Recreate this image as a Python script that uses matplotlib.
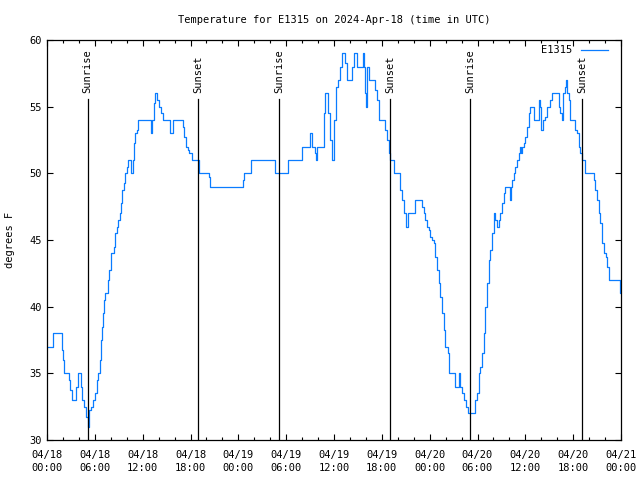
import matplotlib
matplotlib.use("Agg")
import matplotlib.pyplot as plt
import matplotlib.dates as mdates
from datetime import datetime, timedelta

# ---- data (hours since 2024-04-18 00:00 UTC, temperature in F) ----
hours = [0.0, 0.67, 0.8, 1.72, 1.84, 1.97, 2.13, 2.68, 2.76, 2.89, 3.14, 3.43, 3.64, 3.93, 4.14,
         4.23, 4.39, 4.64, 4.9, 5.1, 5.23, 5.31, 5.48, 5.82, 6.03, 6.23, 6.44, 6.65, 6.78, 6.9,
         7.07, 7.2, 7.32, 7.62, 7.82, 7.99, 8.41, 8.54, 8.74, 8.87, 9.16, 9.29, 9.46, 9.67, 9.83,
         10.0, 10.21, 10.42, 10.59, 10.75, 10.92, 11.05, 11.26, 11.46, 12.97, 13.1, 13.22, 13.43,
         13.56, 13.77, 13.85, 14.06, 14.27, 14.52, 15.31, 15.44, 15.69, 15.86, 17.03, 17.11, 17.2,
         17.41, 17.66, 17.87, 18.16, 19.0, 19.08, 20.25, 20.33, 20.46,
         24.43, 24.56, 24.77, 25.48, 25.61, 28.54, 28.66, 30.0, 30.17, 31.76, 31.97, 32.8, 33.0,
         33.2, 33.64, 33.77, 33.93, 34.52, 34.69, 34.9, 35.1, 35.23, 35.44, 35.73, 35.94, 36.28,
         36.44, 36.78, 36.99, 37.2, 37.41, 37.61, 38.03, 38.24, 38.45, 38.66, 38.87, 39.5, 39.62,
         39.71, 39.83, 39.96, 40.13, 40.33, 40.96, 41.17, 41.38, 41.59, 42.22, 42.43, 42.64, 42.85,
         42.97, 43.26, 43.47, 44.1, 44.31, 44.52, 44.73, 45.06, 45.23, 45.56, 46.19, 46.74,
         47.03, 47.24, 47.45, 47.66, 47.87, 48.08, 48.28, 48.58, 48.7, 48.91, 49.12, 49.33, 49.54,
         49.75, 49.96, 50.25, 50.38, 51.0, 51.13, 51.42, 51.63, 51.76, 52.05, 52.26, 52.55, 52.76,
         53.51, 53.72, 53.93, 54.14, 54.35, 54.56, 54.77, 54.98, 55.19, 55.4, 55.61, 55.82, 56.03,
         56.23, 56.44, 56.65, 56.86, 57.07, 57.36, 57.49, 57.91, 58.03, 58.2, 58.33, 58.54, 58.75,
         58.95, 59.16, 59.29, 59.46, 59.58, 59.79, 60.0, 60.21, 60.42, 60.54, 60.84, 61.05, 61.55,
         61.67, 61.8, 62.01, 62.22, 62.51, 62.72, 63.14, 63.35, 63.97, 64.18, 64.39, 64.6, 64.73,
         64.9, 65.02, 65.15, 65.23, 65.44, 65.56, 66.07, 66.19, 66.49, 66.69, 66.9, 67.11, 67.32,
         67.53, 68.37, 68.58, 68.79, 69.0, 69.21, 69.41, 69.62, 69.83, 70.13, 70.25, 70.46, 71.72,
         71.92, 72.0]
temps = [37, 37, 38, 38, 36.75, 36, 35, 35, 34.5, 33.75, 33, 33, 34, 35, 35,
         34, 33, 32.5, 31.75, 31, 31, 32.25, 32.5, 33, 33.5, 34.5, 35, 36, 37.5, 38.5,
         39.5, 40.5, 41, 42, 42.75, 44, 44.5, 45.5, 46, 46.5, 47, 47.75, 48.75, 49.25, 50,
         50.5, 51, 51, 50, 51, 52.25, 53, 53.25, 54, 54, 53, 54, 55.25,
         56, 56, 55.5, 55, 54.5, 54, 54, 53, 53, 54, 54, 53.5, 52.75,
         52, 51.75, 51.5, 51, 51, 50, 50, 49.75, 49,
         49, 49.5, 50, 50, 51, 51, 50, 50, 51, 51, 52, 52, 53,
         52, 51.5, 51, 52, 52, 54.5, 56, 56, 54.5, 52.5, 51, 54, 56.5,
         57, 58, 59, 59, 58.25, 57, 57, 58, 59, 59, 58, 58, 59,
         58, 56, 55, 58, 57, 57, 56.25, 55.5, 54, 54, 53.25, 52.5, 51.5,
         51, 51, 50, 50, 48.75, 48, 47, 46, 47, 47, 48, 48,
         47.5, 47, 46.5, 46, 45.75, 45.25, 45, 44.75, 43.75, 42.75, 41.75, 40.75, 39.5,
         38.25, 37, 36.5, 35, 35, 34, 34, 35, 34, 33.5, 33, 32.5, 32,
         32, 33, 33.5, 35, 35.5, 36.5, 38, 40, 41.75, 43.5, 44.25, 45.5, 47,
         46.5, 46, 46.5, 47, 47.75, 48.5, 49, 49, 48, 49, 49.5, 50, 50.5,
         51, 51.5, 52, 51.5, 52, 52.25, 52.75, 53.5, 54.5, 55, 55, 54, 54,
         55.5, 55, 53.25, 54, 54.25, 55, 55.5, 56, 56, 55, 54.5, 54, 56,
         56, 56.5, 57, 56, 55.5, 54, 54, 53.25, 53, 52, 51.5, 51, 51,
         50, 50, 49.5, 48.75, 48, 47, 46.25, 44.75, 44, 43.75, 43, 42, 42,
         41, 41]

event_labels = ["Sunrise", "Sunset", "Sunrise", "Sunset", "Sunrise", "Sunset"]
event_hours = [5.1, 18.99, 29.15, 43.08, 53.1, 67.16]

tick_labels = ["04/18\n00:00", "04/18\n06:00", "04/18\n12:00", "04/18\n18:00",
               "04/19\n00:00", "04/19\n06:00", "04/19\n12:00", "04/19\n18:00",
               "04/20\n00:00", "04/20\n06:00", "04/20\n12:00", "04/20\n18:00",
               "04/21\n00:00"]
tick_hours = [0, 6, 12, 18, 24, 30, 36, 42, 48, 54, 60, 66, 72]
minor_hours = [h for h in range(0, 73, 2) if h % 6 != 0]

base = datetime(2024, 4, 18)
def to_num(h):
    return mdates.date2num(base + timedelta(hours=h))

FONT = "DejaVu Sans Mono"
FS = 7.5
COLOR = "#0a7cff"

fig = plt.figure(figsize=(6.4, 4.8), dpi=100)
ax = fig.add_axes([47/640, 40/480, 574/640, 400/480])

x = [to_num(h) for h in hours]
ax.plot(x, temps, color=COLOR, lw=0.9, label="E1315", drawstyle="steps-post")

for lbl, h in zip(event_labels, event_hours):
    xv = to_num(h)
    ax.plot([xv, xv], [30, 55.6], color="black", lw=0.9)
    ax.text(xv, 56.0, lbl, rotation=90, ha="center", va="bottom",
            family=FONT, fontsize=FS)

ax.set_xlim(to_num(0), to_num(72))
ax.set_ylim(30, 60)
ax.set_xticks([to_num(h) for h in tick_hours])
ax.set_xticklabels(tick_labels, family=FONT, fontsize=FS, linespacing=1.35)
ax.set_xticks([to_num(h) for h in minor_hours], minor=True)
ax.set_yticks([30, 35, 40, 45, 50, 55, 60])
ax.set_yticklabels(["30", "35", "40", "45", "50", "55", "60"], family=FONT, fontsize=FS)

ax.tick_params(axis="both", which="major", direction="in", length=4, width=0.8,
               top=True, right=True)
ax.tick_params(axis="x", which="minor", direction="in", length=2.5, width=0.8,
               top=True, bottom=True)
ax.tick_params(axis="x", which="major", pad=7)
ax.tick_params(axis="y", which="major", pad=4)
for s in ax.spines.values():
    s.set_linewidth(0.9)

fig.text(334/640, 1 - 20/480, "Temperature for E1315 on 2024-Apr-18 (time in UTC)",
         ha="center", va="center", family=FONT, fontsize=FS)
fig.text(10/640, 0.5, "degrees F", rotation=90, ha="center", va="center",
         family=FONT, fontsize=FS)

leg = ax.legend(loc="upper right", bbox_to_anchor=(1 - 8/574, 1.0), frameon=False,
                markerfirst=False, prop={"family": FONT, "size": FS}, handlelength=2.6,
                handletextpad=0.8, borderaxespad=0.3, borderpad=0.2)

fig.savefig("out.png", dpi=100)
